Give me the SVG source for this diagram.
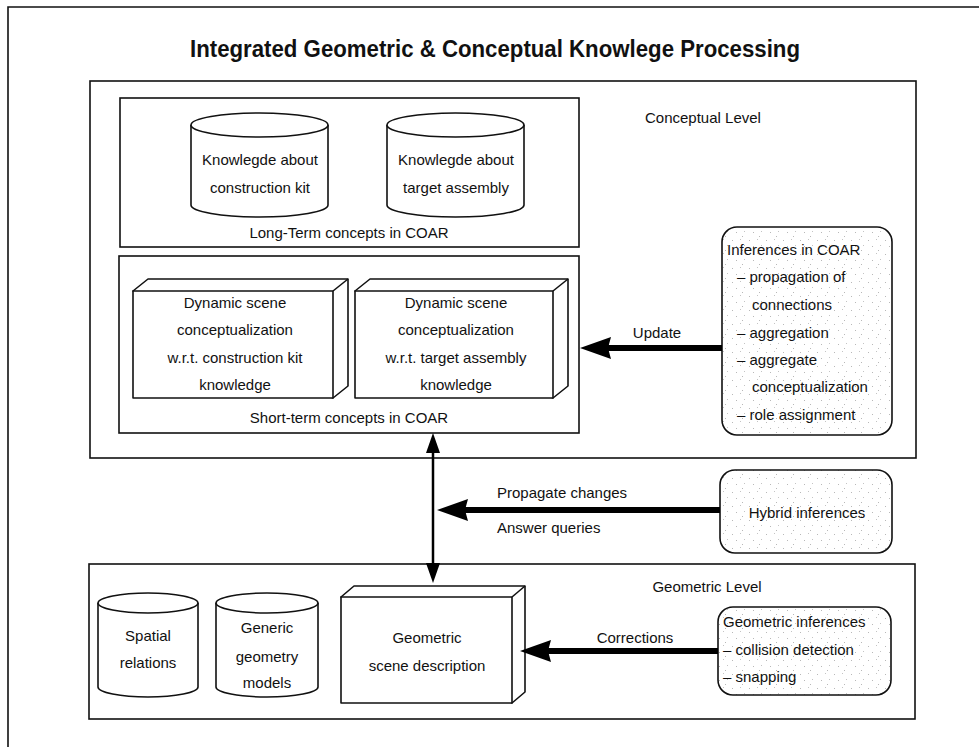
<svg xmlns="http://www.w3.org/2000/svg" width="979" height="747" viewBox="0 0 979 747">
<defs>
<pattern id="dots" width="17" height="14" patternUnits="userSpaceOnUse">
<rect x="1" y="2" width="1" height="1" fill="#b8b8b8"/>
<rect x="9" y="1" width="1" height="1" fill="#c4c4c4"/>
<rect x="5" y="8" width="1" height="1" fill="#b8b8b8"/>
<rect x="13" y="7" width="1" height="1" fill="#c4c4c4"/>
<rect x="11" y="12" width="1" height="1" fill="#b8b8b8"/>
</pattern>
<style>
text{font-family:"Liberation Sans",Arial,sans-serif;font-size:15px;fill:#111}
.title{font-size:23px;font-weight:bold;text-anchor:middle}
.c{text-anchor:middle}
.box{fill:none;stroke:#111;stroke-width:1.6}
.shape{fill:#fff;stroke:#111;stroke-width:1.6;stroke-linejoin:round}
.inf{fill:url(#dots);stroke:#111;stroke-width:1.6}
.thick{stroke:#000;stroke-width:6;fill:none}
.thin{stroke:#000;stroke-width:2.5;fill:none}
.head{fill:#000}
</style>
</defs>

<path class="box" d="M8,747 V7 H979"/>
<text class="title" x="495" y="57" textLength="610" lengthAdjust="spacingAndGlyphs">Integrated Geometric &amp; Conceptual Knowlege Processing</text>

<g id="conceptual-level">
<rect class="box" x="90" y="81" width="826" height="377"/>
<text x="645" y="123">Conceptual Level</text>
</g>

<g id="long-term">
<rect class="box" x="120" y="98" width="459" height="149"/>
<text class="c" x="349" y="238">Long-Term concepts in COAR</text>
</g>

<g id="kb-construction-kit">
<path class="shape" d="M191,125 V205 A68.5,12 0 0 0 328,205 V125"/>
<ellipse class="shape" cx="259.5" cy="125" rx="68.5" ry="12"/>
<text class="c" x="260" y="165">Knowlegde about</text>
<text class="c" x="260" y="193">construction kit</text>
</g>

<g id="kb-target-assembly">
<path class="shape" d="M387,125 V205 A68.5,12 0 0 0 524,205 V125"/>
<ellipse class="shape" cx="455.5" cy="125" rx="68.5" ry="12"/>
<text class="c" x="456" y="165">Knowlegde about</text>
<text class="c" x="456" y="193">target assembly</text>
</g>

<g id="short-term">
<rect class="box" x="119" y="256" width="460" height="177"/>
<text class="c" x="349" y="423">Short-term concepts in COAR</text>
</g>

<g id="dyn-construction-kit">
<path class="shape" d="M133,291 L148,279 H348 V386 L333,398 Z"/>
<path class="shape" d="M333,291 L348,279"/>
<rect class="shape" x="133" y="291" width="200" height="107"/>
<text class="c" x="235" y="308">Dynamic scene</text>
<text class="c" x="235" y="335">conceptualization</text>
<text class="c" x="235" y="363">w.r.t. construction kit</text>
<text class="c" x="235" y="390">knowledge</text>
</g>

<g id="dyn-target-assembly">
<path class="shape" d="M355,291 L370,279 H568 V386 L553,398 Z"/>
<path class="shape" d="M553,291 L568,279"/>
<rect class="shape" x="355" y="291" width="198" height="107"/>
<text class="c" x="456" y="308">Dynamic scene</text>
<text class="c" x="456" y="335">conceptualization</text>
<text class="c" x="456" y="363">w.r.t. target assembly</text>
<text class="c" x="456" y="390">knowledge</text>
</g>

<g id="inferences-coar">
<rect class="inf" x="722" y="227" width="170" height="208" rx="15"/>
<text x="727" y="255">Inferences in COAR</text>
<text x="737" y="282">– propagation of</text>
<text x="752" y="310">connections</text>
<text x="737" y="338">– aggregation</text>
<text x="737" y="365">– aggregate</text>
<text x="752" y="392">conceptualization</text>
<text x="737" y="420">– role assignment</text>
</g>

<g id="hybrid-inferences">
<rect class="inf" x="720" y="470" width="172" height="83" rx="15"/>
<text class="c" x="807" y="518">Hybrid inferences</text>
</g>

<g id="geometric-level">
<rect class="box" x="89" y="564" width="826" height="155"/>
<text class="c" x="707" y="592">Geometric Level</text>
</g>

<g id="spatial-relations">
<path class="shape" d="M98,603 V687 A50,10 0 0 0 198,687 V603"/>
<ellipse class="shape" cx="148" cy="603" rx="50" ry="10"/>
<text class="c" x="148" y="641">Spatial</text>
<text class="c" x="148" y="668">relations</text>
</g>

<g id="generic-geometry">
<path class="shape" d="M216,603 V687 A51,10 0 0 0 318,687 V603"/>
<ellipse class="shape" cx="267" cy="603" rx="51" ry="10"/>
<text class="c" x="267" y="633">Generic</text>
<text class="c" x="267" y="662">geometry</text>
<text class="c" x="267" y="688">models</text>
</g>

<g id="geometric-scene">
<path class="shape" d="M341,597 L354,586 H525 V692 L512,703 Z"/>
<path class="shape" d="M512,597 L525,586"/>
<rect class="shape" x="341" y="597" width="171" height="106"/>
<text class="c" x="427" y="643">Geometric</text>
<text class="c" x="427" y="671">scene description</text>
</g>

<g id="geometric-inferences">
<rect class="inf" x="718" y="607" width="173" height="88" rx="15"/>
<text x="723" y="627">Geometric inferences</text>
<text x="723" y="655">– collision detection</text>
<text x="723" y="682">– snapping</text>
</g>

<g id="connectors">
<line class="thick" x1="722" y1="348" x2="605" y2="348"/>
<polygon class="head" points="580,348 611,337 608,348 611,359"/>
<text class="c" x="657" y="338">Update</text>

<line class="thin" x1="433" y1="450" x2="433" y2="566"/>
<polygon class="head" points="433,433 440,453 426,453"/>
<polygon class="head" points="433,583 440,563 426,563"/>

<line class="thick" x1="720" y1="510" x2="462" y2="510"/>
<polygon class="head" points="437,510 468,499 465,510 468,521"/>
<text x="497" y="498">Propagate changes</text>
<text x="497" y="533">Answer queries</text>

<line class="thick" x1="718" y1="651" x2="545" y2="651"/>
<polygon class="head" points="520,651 551,640 548,651 551,662"/>
<text class="c" x="635" y="643">Corrections</text>
</g>
</svg>
